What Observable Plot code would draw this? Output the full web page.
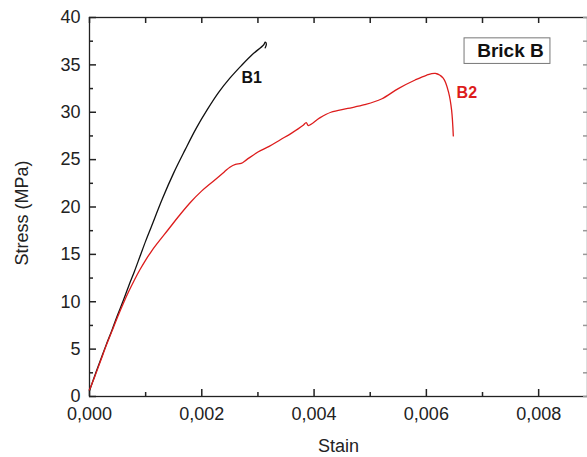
<!DOCTYPE html>
<html>
<head>
<meta charset="utf-8">
<script src="https://cdn.jsdelivr.net/npm/d3@7"></script>
<script src="https://cdn.jsdelivr.net/npm/@observablehq/plot@0.6"></script>
<style>
  html, body { margin: 0; padding: 0; background: #fff; }
  #chart svg { display: block; }
</style>
</head>
<body>
<div id="chart"></div>
<script>
// ---- data ----
const strainB1 = [0, 0.0001, 0.0002, 0.0003, 0.0004, 0.0005, 0.0006, 0.0007, 0.0008, 0.0009, 0.001, 0.0011, 0.0013, 0.0015, 0.0017, 0.0019, 0.0021, 0.0023, 0.0025, 0.0027, 0.0029, 0.0031, 0.00313, 0.00315, 0.00313];
const stressB1 = [0.6, 2.3, 3.9, 5.5, 7.0, 8.6, 10.1, 11.7, 13.2, 14.8, 16.4, 17.9, 20.9, 23.6, 26.0, 28.3, 30.3, 32.1, 33.6, 34.9, 36.1, 37.1, 37.4, 37.2, 36.8];

const strainB2 = [0, 0.0001, 0.0002, 0.0003, 0.0004, 0.0005, 0.0006, 0.0007, 0.0008, 0.0009, 0.001, 0.0011, 0.0012, 0.0014, 0.0016, 0.0018, 0.002, 0.0022, 0.0024, 0.0025, 0.0026, 0.0027, 0.0028, 0.003, 0.0032, 0.0034, 0.0036, 0.0038, 0.00386, 0.0039, 0.0041, 0.0043, 0.0046, 0.0049, 0.0052, 0.0055, 0.0058, 0.006, 0.00616, 0.0063, 0.0064, 0.00645, 0.00648];
const stressB2 = [0.7, 2.2, 3.8, 5.4, 6.9, 8.4, 9.8, 11.1, 12.3, 13.4, 14.4, 15.3, 16.1, 17.6, 19.1, 20.5, 21.7, 22.7, 23.7, 24.2, 24.5, 24.6, 25.0, 25.8, 26.4, 27.1, 27.8, 28.6, 28.9, 28.6, 29.4, 30.0, 30.4, 30.8, 31.4, 32.5, 33.4, 33.9, 34.1, 33.6, 32.0, 30.2, 27.5];

const xMajor = [0, 0.002, 0.004, 0.006, 0.008];
const xMinor = [0.001, 0.003, 0.005, 0.007];
const yMajor = [0, 5, 10, 15, 20, 25, 30, 35, 40];
const yMinor = [2.5, 7.5, 12.5, 17.5, 22.5, 27.5, 32.5, 37.5];

const seriesNames = ["B1", "B2"];
const seriesColors = ["#111111", "#dd1c1c"];
// annotation anchors (data units)
const labelStrain = [0.00289, 0.00672];
const labelStress = [33.6, 32.0];
// legend box corners (data units)
const legendStrain = [0.00668, 0.00821];
const legendStress = [35.1, 37.8];

const legendTitle = "Brick B";
const xTitle = "Stain";
const yTitle = "Stress (MPa)";

// ---- build ----
const b1 = strainB1.map((x, i) => ({x, y: stressB1[i]}));
const b2 = strainB2.map((x, i) => ({x, y: stressB2[i]}));
const labels = seriesNames.map((name, i) => ({name, x: labelStrain[i], y: labelStress[i], c: seriesColors[i]}));
const legend = [{x1: legendStrain[0], x2: legendStrain[1], y1: legendStress[0], y2: legendStress[1], t: legendTitle}];
const fmt = d => d.toFixed(3).replace(".", ",");
const font = "'Liberation Sans', Arial, Helvetica, sans-serif";

const W = 587, H = 457, mL = 89, mR = 0, mT = 17, mB = 61;
const fw = W - mL - mR, fh = H - mT - mB;
const xDom = [0, 0.00887], yDom = [0, 40];
// tick lengths in pixels converted to data units
const px = p => (xDom[1] - xDom[0]) * p / fw;
const py = p => (yDom[1] - yDom[0]) * p / fh;

const chart = Plot.plot({
  width: W,
  height: H,
  marginLeft: mL,
  marginRight: mR,
  marginTop: mT,
  marginBottom: mB,
  style: {fontFamily: font, background: "#fff", color: "#222"},
  x: {domain: xDom, label: null, axis: null},
  y: {domain: yDom, label: null, axis: null},
  marks: [
    Plot.frame({stroke: "#222", strokeWidth: 1.3}),
    // inward ticks
    Plot.ruleX(xMajor, {x: d => d, y1: yDom[0], y2: yDom[0] + py(7), stroke: "#222", strokeWidth: 1.5}),
    Plot.ruleX(xMinor, {x: d => d, y1: yDom[0], y2: yDom[0] + py(4), stroke: "#222", strokeWidth: 1.5}),
    Plot.ruleX([...xMajor, ...xMinor], {x: d => d, y1: yDom[1] - py(6), y2: yDom[1], stroke: "#222", strokeWidth: 1.5}),
    Plot.ruleY(yMajor, {y: d => d, x1: xDom[0], x2: xDom[0] + px(7), stroke: "#222", strokeWidth: 1.5}),
    Plot.ruleY(yMinor, {y: d => d, x1: xDom[0], x2: xDom[0] + px(4), stroke: "#222", strokeWidth: 1.5}),
    Plot.ruleY([...yMajor, ...yMinor], {y: d => d, x1: xDom[1] - px(4), x2: xDom[1], stroke: "#999", strokeWidth: 1.5}),
    // tick labels
    Plot.axisX(xMajor, {anchor: "bottom", tickSize: 0, tickPadding: 11, tickFormat: fmt, fontSize: 18, label: null, fill: "#222"}),
    Plot.axisY(yMajor, {anchor: "left", tickSize: 0, tickPadding: 9, fontSize: 18, label: null, fill: "#222"}),
    // curves
    Plot.line(b1, {x: "x", y: "y", stroke: seriesColors[0], strokeWidth: 1.3, curve: "catmull-rom"}),
    Plot.line(b2, {x: "x", y: "y", stroke: seriesColors[1], strokeWidth: 1.3, curve: "catmull-rom"}),
    // curve labels
    Plot.text(labels, {x: "x", y: "y", text: "name", fill: "c", fontSize: 16, fontWeight: "bold"}),
    // legend box
    Plot.rect(legend, {x1: "x1", x2: "x2", y1: "y1", y2: "y2", stroke: "#777", fill: "#fff"}),
    Plot.text(legend, {x: d => (d.x1 + d.x2) / 2, y: d => (d.y1 + d.y2) / 2, text: "t", dx: 3, fontSize: 19, fontWeight: "bold", fill: "#111", textAnchor: "middle", lineAnchor: "middle"}),
    // axis titles
    Plot.text([xTitle], {frameAnchor: "bottom", dy: 50, fontSize: 18, fill: "#222", textAnchor: "middle", lineAnchor: "middle"}),
    Plot.text([yTitle], {frameAnchor: "left", dx: -67, dy: 6, rotate: -90, fontSize: 18, fill: "#222", textAnchor: "middle", lineAnchor: "middle"})
  ]
});
document.getElementById("chart").append(chart);
</script>
</body>
</html>
